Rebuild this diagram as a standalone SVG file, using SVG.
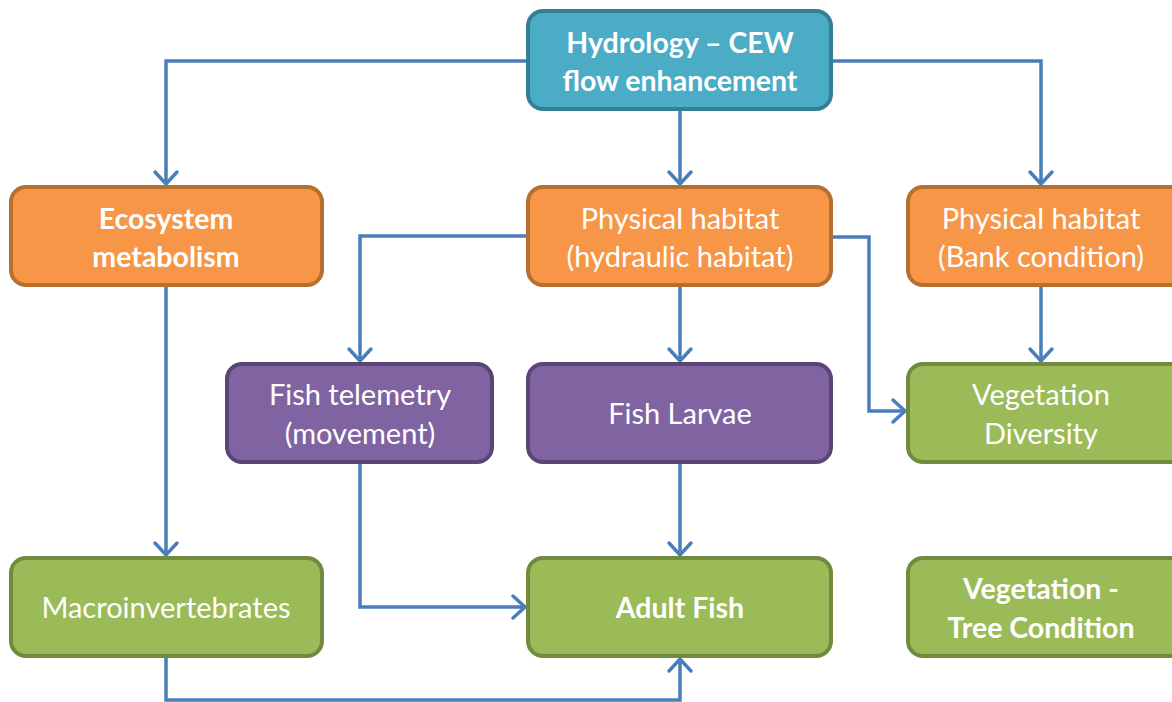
<svg xmlns="http://www.w3.org/2000/svg" width="1172" height="702" viewBox="0 0 1172 702">
<defs>
<marker id="arr" markerUnits="userSpaceOnUse" markerWidth="30" markerHeight="30" viewBox="-15 -15 30 30" refX="0" refY="0" orient="auto">
<path d="M-12,-11 L0,0 L-12,11" fill="none" stroke="#4a7ebb" stroke-width="3.5" stroke-linecap="round" stroke-linejoin="miter"/>
</marker>
</defs>
<style>
.box{stroke-width:4}
.blue{fill:#4bacc6;stroke:#347f93}
.orange{fill:#f79646;stroke:#b5702f}
.purple{fill:#8064a2;stroke:#5b4577}
.green{fill:#9bbb59;stroke:#718a3e}
text{font-family:"Lato","Open Sans","Liberation Sans",sans-serif;font-size:29px;fill:#ffffff;text-anchor:middle}
.b{font-weight:bold;font-size:28.5px}
.c{fill:none;stroke:#4a7ebb;stroke-width:3.5}
</style>
<g id="connectors">
<path class="c" d="M527,61 H166 V184" marker-end="url(#arr)"/>
<path class="c" d="M832,61 H1041 V184" marker-end="url(#arr)"/>
<path class="c" d="M680,110 V184" marker-end="url(#arr)"/>
<path class="c" d="M166,286 V555" marker-end="url(#arr)"/>
<path class="c" d="M527,236 H360 V361" marker-end="url(#arr)"/>
<path class="c" d="M832,237 H869 V411 H905" marker-end="url(#arr)"/>
<path class="c" d="M680,286 V361" marker-end="url(#arr)"/>
<path class="c" d="M1041,286 V361" marker-end="url(#arr)"/>
<path class="c" d="M360,463 V607 H525" marker-end="url(#arr)"/>
<path class="c" d="M680,463 V555" marker-end="url(#arr)"/>
<path class="c" d="M166,657 V700 H680 V659" marker-end="url(#arr)"/>
</g>
<g id="hydrology">
<rect class="box blue" x="528" y="11" width="303" height="98" rx="15"/>
<text class="b" x="680" y="53">Hydrology – CEW</text>
<text class="b" x="680" y="91">flow enhancement</text>
</g>
<g id="ecosystem">
<rect class="box orange" x="11" y="187" width="311" height="98" rx="15"/>
<text class="b" x="166" y="229">Ecosystem</text>
<text class="b" x="166" y="267">metabolism</text>
</g>
<g id="hydraulic">
<rect class="box orange" x="528" y="187" width="303" height="98" rx="15"/>
<text x="680" y="229">Physical habitat</text>
<text x="680" y="267">(hydraulic habitat)</text>
</g>
<g id="bank">
<rect class="box orange" x="908" y="187" width="280" height="98" rx="15"/>
<text x="1041" y="229">Physical habitat</text>
<text x="1041" y="267">(Bank condition)</text>
</g>
<g id="telemetry">
<rect class="box purple" x="227" y="364" width="265" height="98" rx="15"/>
<text x="360" y="405">Fish telemetry</text>
<text x="360" y="444">(movement)</text>
</g>
<g id="larvae">
<rect class="box purple" x="528" y="364" width="303" height="98" rx="15"/>
<text x="680" y="424">Fish Larvae</text>
</g>
<g id="vegdiv">
<rect class="box green" x="908" y="364" width="280" height="98" rx="15"/>
<text x="1041" y="405">Vegetation</text>
<text x="1041" y="444">Diversity</text>
</g>
<g id="macro">
<rect class="box green" x="11" y="558" width="311" height="98" rx="15"/>
<text x="166" y="618">Macroinvertebrates</text>
</g>
<g id="adult">
<rect class="box green" x="528" y="558" width="303" height="98" rx="15"/>
<text class="b" x="680" y="618">Adult Fish</text>
</g>
<g id="tree">
<rect class="box green" x="908" y="558" width="280" height="98" rx="15"/>
<text class="b" x="1041" y="599">Vegetation -</text>
<text class="b" x="1041" y="638">Tree Condition</text>
</g>
</svg>
